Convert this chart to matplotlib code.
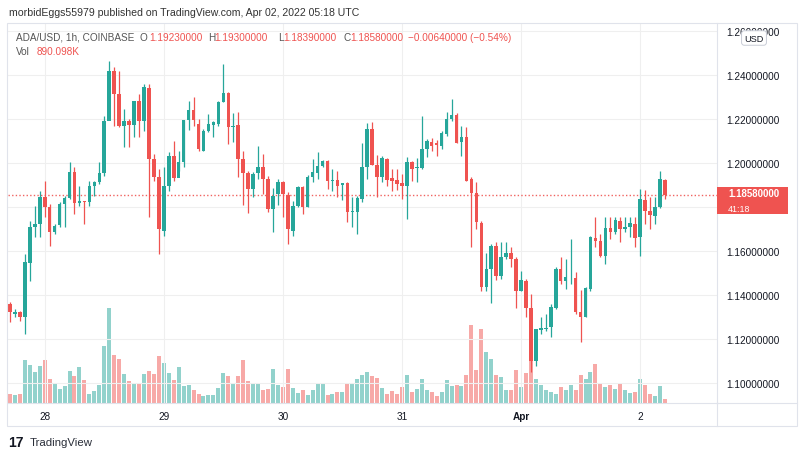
import matplotlib
matplotlib.use("Agg")
import matplotlib.pyplot as plt
from matplotlib.patches import Rectangle
from matplotlib.lines import Line2D
import matplotlib.transforms as mtransforms
import numpy as np

# ---------------- data (ADA/USD 1h, COINBASE) ----------------
opens = [
    1.1361, 1.1315, 1.1326, 1.1300, 1.1545, 1.1712, 1.1724, 1.1848, 1.1800, 1.1686,
    1.1721, 1.1815, 1.1842, 1.1959, 1.1820, 1.1827, 1.1823, 1.1895, 1.1914, 1.1955,
    1.2194, 1.2421, 1.2315, 1.2171, 1.2194, 1.2176, 1.2282, 1.2194, 1.2341, 1.2020,
    1.1936, 1.1694, 1.1895, 1.2035, 1.1933, 1.2005, 1.2197, 1.2242, 1.2179, 1.2058,
    1.2148, 1.2176, 1.2179, 1.2280, 1.2318, 1.2167, 1.2176, 1.2020, 1.1955, 1.1883,
    1.1955, 1.1985, 1.1929, 1.1792, 1.1861, 1.1917, 1.1858, 1.1694, 1.1805, 1.1891,
    1.1803, 1.1936, 1.1956, 1.1989, 1.2009, 1.1918, 1.1924, 1.1903, 1.1909, 1.1780,
    1.1780, 1.1838, 1.1985, 1.2156, 1.1994, 1.1939, 1.2020, 1.1932, 1.1924, 1.1911,
    1.1898, 1.2005, 1.1979, 1.1979, 1.2065, 1.2095, 1.2091, 1.2080, 1.2133, 1.2202,
    1.2221, 1.2095, 1.2118, 1.1929, 1.1864, 1.1727, 1.1439, 1.1520, 1.1626, 1.1489,
    1.1576, 1.1591, 1.1565, 1.1421, 1.1464, 1.1342, 1.1103, 1.1244, 1.1247, 1.1255,
    1.1345, 1.1520, 1.1467, 1.1477, 1.1479, 1.1323, 1.1303, 1.1429, 1.1661, 1.1648,
    1.1580, 1.1706, 1.1686, 1.1739, 1.1702, 1.1709, 1.1724, 1.1667, 1.1833, 1.1785,
    1.1762, 1.1803, 1.1923]
highs = [
    1.1368, 1.1338, 1.1330, 1.1588, 1.1739, 1.1808, 1.1876, 1.1921, 1.1815, 1.1724,
    1.1823, 1.1853, 1.2005, 1.1982, 1.1898, 1.1830, 1.1921, 1.1921, 1.2005, 1.2217,
    1.2467, 1.2436, 1.2421, 1.2247, 1.2200, 1.2285, 1.2315, 1.2361, 1.2361, 1.2042,
    1.1974, 1.1982, 1.2050, 1.2100, 1.2058, 1.2197, 1.2285, 1.2300, 1.2200, 1.2156,
    1.2224, 1.2194, 1.2285, 1.2452, 1.2323, 1.2227, 1.2232, 1.2058, 1.1967, 1.1959,
    1.2080, 1.2042, 1.1944, 1.1890, 1.1929, 1.1921, 1.1868, 1.1830, 1.1898, 1.1898,
    1.1948, 1.2020, 1.2050, 1.2015, 1.2015, 1.1974, 1.1967, 1.1912, 1.1914, 1.1845,
    1.1853, 1.2091, 1.2182, 1.2186, 1.2039, 1.2035, 1.2024, 1.1974, 1.1974, 1.1951,
    1.2027, 1.2012, 1.2024, 1.2217, 1.2111, 1.2115, 1.2106, 1.2148, 1.2232, 1.2292,
    1.2227, 1.2171, 1.2164, 1.1936, 1.1915, 1.1739, 1.1591, 1.1633, 1.1641, 1.1641,
    1.1641, 1.1621, 1.1573, 1.1512, 1.1474, 1.1406, 1.1247, 1.1300, 1.1315, 1.1361,
    1.1527, 1.1573, 1.1565, 1.1656, 1.1505, 1.1424, 1.1436, 1.1671, 1.1758, 1.1679,
    1.1758, 1.1755, 1.1755, 1.1755, 1.1758, 1.1755, 1.1755, 1.1883, 1.1879, 1.1845,
    1.1845, 1.1964, 1.1930]
lows = [
    1.1277, 1.1300, 1.1285, 1.1224, 1.1467, 1.1664, 1.1664, 1.1755, 1.1626, 1.1679,
    1.1709, 1.1709, 1.1838, 1.1770, 1.1808, 1.1724, 1.1808, 1.1853, 1.1906, 1.1944,
    1.2202, 1.2171, 1.2165, 1.2073, 1.2073, 1.2118, 1.2118, 1.2148, 1.1755, 1.1921,
    1.1588, 1.1671, 1.1876, 1.1921, 1.1967, 1.1982, 1.2150, 1.2171, 1.2058, 1.2055,
    1.2141, 1.2118, 1.2171, 1.2277, 1.2088, 1.2095, 1.1936, 1.1809, 1.1774, 1.1845,
    1.1929, 1.1861, 1.1777, 1.1686, 1.1809, 1.1755, 1.1632, 1.1671, 1.1800, 1.1770,
    1.1800, 1.1914, 1.1929, 1.1982, 1.1883, 1.1876, 1.1845, 1.1833, 1.1732, 1.1712,
    1.1679, 1.1823, 1.1929, 1.1994, 1.1845, 1.1914, 1.1898, 1.1876, 1.1879, 1.1839,
    1.1745, 1.1921, 1.1914, 1.1974, 1.2027, 1.2058, 1.2035, 1.2065, 1.2126, 1.2194,
    1.2091, 1.2035, 1.1921, 1.1618, 1.1702, 1.1421, 1.1421, 1.1364, 1.1470, 1.1474,
    1.1565, 1.1527, 1.1342, 1.1418, 1.1300, 1.1050, 1.1080, 1.1224, 1.1240, 1.1209,
    1.1338, 1.1452, 1.1429, 1.1452, 1.1315, 1.1186, 1.1300, 1.1421, 1.1618, 1.1573,
    1.1542, 1.1656, 1.1679, 1.1641, 1.1686, 1.1664, 1.1618, 1.1579, 1.1724, 1.1703,
    1.1724, 1.1797, 1.1839]
closes = [
    1.1323, 1.1323, 1.1300, 1.1550, 1.1709, 1.1724, 1.1848, 1.1800, 1.1686, 1.1717,
    1.1815, 1.1842, 1.1959, 1.1820, 1.1827, 1.1823, 1.1898, 1.1914, 1.1955, 1.2194,
    1.2421, 1.2315, 1.2171, 1.2194, 1.2176, 1.2282, 1.2194, 1.2345, 1.2020, 1.1936,
    1.1702, 1.1895, 1.2035, 1.1933, 1.2005, 1.2197, 1.2242, 1.2197, 1.2065, 1.2148,
    1.2179, 1.2186, 1.2277, 1.2318, 1.2164, 1.2171, 1.2020, 1.1955, 1.1883, 1.1952,
    1.1985, 1.1929, 1.1792, 1.1853, 1.1914, 1.1861, 1.1702, 1.1805, 1.1894, 1.1803,
    1.1936, 1.1959, 1.1989, 1.2012, 1.1921, 1.1924, 1.1898, 1.1909, 1.1780, 1.1785,
    1.1842, 1.1985, 1.2156, 1.1994, 1.1939, 1.2024, 1.1924, 1.1921, 1.1906, 1.1898,
    1.2005, 1.1974, 1.1982, 1.2065, 1.2100, 1.2080, 1.2083, 1.2136, 1.2202, 1.2221,
    1.2091, 1.2118, 1.1921, 1.1864, 1.1732, 1.1439, 1.1520, 1.1626, 1.1489, 1.1576,
    1.1591, 1.1565, 1.1421, 1.1470, 1.1342, 1.1103, 1.1247, 1.1250, 1.1252, 1.1348,
    1.1520, 1.1467, 1.1482, 1.1479, 1.1323, 1.1303, 1.1433, 1.1664, 1.1648, 1.1580,
    1.1706, 1.1686, 1.1742, 1.1702, 1.1709, 1.1727, 1.1661, 1.1838, 1.1785, 1.1767,
    1.1803, 1.1929, 1.1858]
volumes_k = [
    1740, 1540, 1740, 8540, 7660, 6200, 7400, 8540, 4740, 3860,
    2860, 3340, 6400, 5400, 7200, 4540, 1860, 2340, 3540, 11400,
    19060, 9660, 8860, 5860, 4340, 4060, 4060, 5860, 6340, 5860,
    9340, 8000, 6060, 4660, 7200, 3340, 3660, 2660, 1860, 1340,
    1540, 1540, 3000, 6060, 5340, 3860, 5340, 8540, 4340, 3860,
    4060, 2540, 2860, 6860, 3540, 3200, 6860, 3000, 2000, 2540,
    1540, 2540, 4060, 3860, 1540, 1860, 2200, 2200, 4060, 3860,
    4740, 5660, 6200, 5340, 5060, 3000, 1740, 2340, 1740, 3200,
    5660, 2200, 2740, 4740, 2540, 2200, 1340, 2200, 4540, 3340,
    3540, 3340, 5540, 15540, 6540, 14740, 10200, 8860, 5660, 5200,
    2540, 2540, 6660, 3200, 6060, 8540, 4860, 3540, 2540, 2200,
    1860, 3200, 2540, 3660, 2660, 5540, 4860, 6200, 7860, 4000,
    3200, 3540, 2860, 3860, 2540, 2000, 2200, 4740, 3540, 1860,
    1340, 3340, 890]
day_labels = ["28", "29", "30", "31", "Apr", "2"]
day_candle_index = [7, 31, 55, 79, 103, 127]   # candles at 00:00 UTC
price_ticks = [1.10, 1.12, 1.14, 1.16, 1.18, 1.20, 1.22, 1.24, 1.26]

# ---------------- styling ----------------
UP, DOWN = "#26a69a", "#ef5350"
UP_V, DOWN_V = "#92d2cc", "#f7a9a7"
GRID = "#efefef"
BORDER = "#e0e3eb"
TXT = "#131722"
plt.rcParams["font.family"] = ["Liberation Sans", "DejaVu Sans"]
FS = 7.2

W, H = 800, 460
fig = plt.figure(figsize=(8, 4.6), dpi=100)
fig.patch.set_facecolor("white")

L, R, T, B = 8, 717, 24, 404
YMIN, YMAX = 1.0911, 1.2638
rect = [L / W, 1 - B / H, (R - L) / W, (B - T) / H]
axv = fig.add_axes(rect)
ax = fig.add_axes(rect, sharex=axv)
ax.patch.set_alpha(0)

o = np.array(opens); h = np.array(highs); l = np.array(lows); c = np.array(closes)
v = np.array(volumes_k, dtype=float)
x = np.arange(len(o))
up = c >= o
col = np.where(up, UP, DOWN)
vcol = np.where(up, UP_V, DOWN_V)

# volume (bottom pane overlay)
axv.bar(x, v, width=0.8, color=vcol, linewidth=0)
axv.set_ylim(0, 76000)
axv.axis("off")

# grid
for p in price_ticks:
    ax.axhline(p, color=GRID, linewidth=0.8, zorder=0)
for d in day_candle_index:
    ax.axvline(d, color=GRID, linewidth=0.8, zorder=0)

# candles
ax.vlines(x, l, h, colors=col, linewidth=0.9, zorder=2)
ax.bar(x, np.maximum(np.abs(c - o), 0.00012), bottom=np.minimum(o, c),
       width=0.72, color=col, linewidth=0, zorder=3)

ax.set_xlim(-0.4, 142.5)
ax.set_ylim(YMIN, YMAX)

# last-price dotted line
ax.axhline(c[-1], color=DOWN, linewidth=1.0, linestyle=(0, (1, 1.6)), zorder=1, alpha=0.9)

# axes ticks (the level hidden behind the last-price box gets no label)
ax.yaxis.tick_right()
shown = [p for p in price_ticks if abs(p - c[-1]) >= 0.004]
ax.set_yticks(shown)
ax.set_yticklabels([f"{p:.8f}" for p in shown])
ax.tick_params(axis="y", length=0, pad=7, labelsize=FS, labelcolor=TXT)
ax.set_xticks(day_candle_index)
ax.set_xticklabels(day_labels)
ax.tick_params(axis="x", length=0, pad=6, labelsize=FS, labelcolor=TXT)
for t in ax.get_xticklabels():
    if t.get_text() == "Apr":
        t.set_fontweight("bold")
for s in ["top", "left"]:
    ax.spines[s].set_visible(False)
for s in ["right", "bottom"]:
    ax.spines[s].set_color(BORDER)
    ax.spines[s].set_linewidth(0.8)

# last price label box on the price scale
px_per_unit = (B - T) / (YMAX - YMIN)
trans = mtransforms.blended_transform_factory(ax.transAxes, ax.transData)
box_t = mtransforms.offset_copy(trans, fig=fig, x=0, y=-19.5, units="dots")
ax.add_patch(Rectangle((1.0, c[-1]), 71 / (R - L), 27 / px_per_unit,
                       transform=box_t, color=DOWN, clip_on=False, zorder=5, linewidth=0))
t1 = mtransforms.offset_copy(trans, fig=fig, x=0, y=1.5, units="dots")
ax.text(1.0 + 11 / (R - L), c[-1], f"{c[-1]:.8f}", transform=t1, color="white",
        fontsize=7.0, fontweight="bold", va="center", ha="left", clip_on=False, zorder=6)
t2 = mtransforms.offset_copy(trans, fig=fig, x=0, y=-13.5, units="dots")
ax.text(1.0 + 11 / (R - L), c[-1], "41:18", transform=t2, color="white",
        fontsize=6.4, va="center", ha="left", clip_on=False, zorder=6)

# frame lines (figure pixels)
def fx(px): return px / W
def fy(py): return 1 - py / H
fig.add_artist(Rectangle((fx(7), fy(427)), fx(797) - fx(7), fy(24) - fy(427),
                         fill=False, edgecolor=BORDER, linewidth=0.8, transform=fig.transFigure))
fig.add_artist(Line2D([fx(717), fx(717)], [fy(404), fy(427)], color=BORDER, linewidth=0.8,
                      transform=fig.transFigure))
fig.add_artist(Line2D([fx(717), fx(797)], [fy(404), fy(404)], color=BORDER, linewidth=0.8,
                      transform=fig.transFigure))

# USD badge (sits over the top price label, as in the original)
fig.text(fx(754), fy(39), "USD", fontsize=6.6, color=TXT, ha="center", va="center",
         bbox=dict(boxstyle="round,pad=0.3,rounding_size=0.3", fc="white", ec="#c8ccd6", lw=0.7))

# header texts
fig.text(fx(9), fy(13), "morbidEggs55979 published on TradingView.com, Apr 02, 2022 05:18 UTC",
         fontsize=7.6, color="#333333", ha="left", va="center")
gray = "#555555"
y1 = fy(38)
fig.text(fx(16), y1, "ADA/USD, 1h, COINBASE", fontsize=FS, color=gray, va="center")
items = [(140, "O", 149, "1.19230000"), (208, "H", 214, "1.19300000"),
         (278, "L", 283, "1.18390000"), (343, "C", 350, "1.18580000")]
for xl, lab, xv, val in items:
    fig.text(fx(xl), y1, lab, fontsize=FS, color=gray, va="center")
    fig.text(fx(xv), y1, val, fontsize=FS, color=DOWN, va="center")
fig.text(fx(408), y1, "\u22120.00640000 (\u22120.54%)", fontsize=FS, color=DOWN, va="center")
fig.text(fx(16), fy(52), "Vol", fontsize=FS, color=gray, va="center")
fig.text(fx(37), fy(52), "890.098K", fontsize=FS, color=DOWN, va="center")

# TradingView footer
fig.text(fx(8), fy(443), "17", fontsize=10, fontweight="bold", color="#131722", va="center")
fig.text(fx(30), fy(443), "TradingView", fontsize=8.2, color="#2a2e39", va="center")

fig.savefig("out.png", dpi=100)
